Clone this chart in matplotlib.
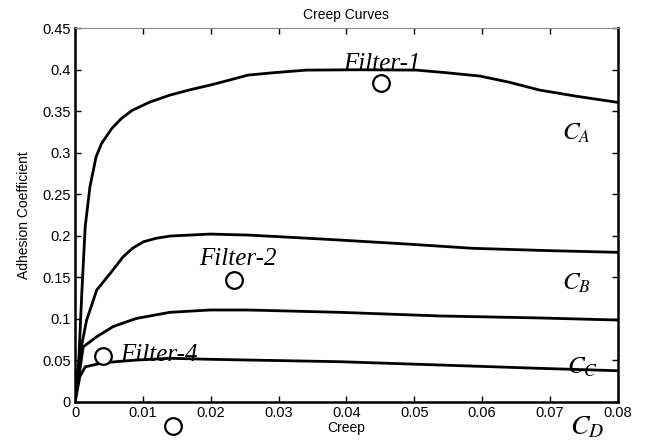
import numpy as np
import matplotlib
matplotlib.use("Agg")
import matplotlib.pyplot as plt

plt.rcParams['font.family'] = ['Liberation Sans', 'DejaVu Sans']
plt.rcParams['mathtext.fontset'] = 'stix'

# creep curve samples
creep_a = [0, 0.0005, 0.001, 0.0015, 0.0022, 0.0031, 0.0039, 0.0054, 0.0068, 0.0084, 0.011,
           0.014, 0.017, 0.0199, 0.0225, 0.0255, 0.0292, 0.0341, 0.042, 0.0503, 0.0548,
           0.0597, 0.064, 0.0685, 0.074, 0.08]
adh_a = [0, 0.04, 0.131, 0.211, 0.259, 0.295, 0.311, 0.329, 0.341, 0.351, 0.361,
         0.3695, 0.376, 0.3815, 0.387, 0.3936, 0.3964, 0.3996, 0.4, 0.3996, 0.3964,
         0.3924, 0.385, 0.3755, 0.368, 0.3607]

creep_b = [0, 0.0003, 0.00074, 0.0017, 0.0032, 0.0052, 0.0071, 0.0085, 0.0101, 0.012, 0.014,
           0.0199, 0.0255, 0.032, 0.039, 0.0489, 0.0587, 0.07, 0.08]
adh_b = [0, 0.03, 0.058, 0.098, 0.1346, 0.1547, 0.1747, 0.185, 0.1928, 0.197, 0.1996,
         0.202, 0.2008, 0.198, 0.1948, 0.19, 0.1848, 0.182, 0.18]

creep_c = [0, 0.0005, 0.0012, 0.0032, 0.0056, 0.0075, 0.0091, 0.0115, 0.014, 0.0199, 0.0255,
           0.039, 0.0538, 0.068, 0.08]
adh_c = [0, 0.026, 0.066, 0.0783, 0.0904, 0.096, 0.1004, 0.104, 0.1077, 0.1105, 0.1105,
         0.1077, 0.1033, 0.101, 0.0984]

creep_d = [0, 0.00025, 0.0007, 0.0015, 0.0042, 0.0091, 0.014, 0.0199, 0.0255, 0.039, 0.0538,
           0.0685, 0.08]
adh_d = [0, 0.01, 0.03, 0.042, 0.047, 0.0502, 0.0523, 0.0511, 0.0502, 0.0482, 0.0442,
         0.0402, 0.0373]

# filter operating points
filter_x = [0.0451, 0.0235, 0.0041, 0.0144]
filter_y = [0.384, 0.147, 0.0546, -0.029]
filter_names = ['Filter-1', 'Filter-2', 'Filter-4']
filter_label_x = [0.0395, 0.0183, 0.0066]
filter_label_y = [0.407, 0.172, 0.0566]

curve_names = ['$C_A$', '$C_B$', '$C_C$', '$C_D$']
curve_label_x = [0.0718, 0.0718, 0.0725, 0.073]
curve_label_y = [0.324, 0.143, 0.042, -0.031]
curve_label_size = [18, 18, 18, 20]

fig = plt.figure(figsize=(6.49, 4.44), dpi=100)
ax = fig.add_axes([0.1156, 0.0953, 0.8362, 0.841])

for cx, cy in [(creep_a, adh_a), (creep_b, adh_b), (creep_c, adh_c), (creep_d, adh_d)]:
    ax.plot(cx, cy, color='black', lw=2, solid_joinstyle='round')

ax.plot(filter_x, filter_y, 'o', ms=12, mfc='white', mec='black', mew=1.6,
        clip_on=False, zorder=5)

for name, tx, ty in zip(filter_names, filter_label_x, filter_label_y):
    ax.text(tx, ty, name, family='Liberation Serif', style='italic', fontsize=18,
            va='center', ha='left', zorder=6)

for name, tx, ty, fs in zip(curve_names, curve_label_x, curve_label_y, curve_label_size):
    ax.text(tx, ty, name, fontsize=fs, va='center', ha='left', clip_on=False)

ax.set_xlim(0, 0.08)
ax.set_ylim(0, 0.45)
ax.set_xticks(np.arange(0, 0.081, 0.01))
ax.set_yticks(np.arange(0, 0.451, 0.05))
ax.set_xticklabels(['0', '0.01', '0.02', '0.03', '0.04', '0.05', '0.06', '0.07', '0.08'])
ax.set_yticklabels(['0', '0.05', '0.1', '0.15', '0.2', '0.25', '0.3', '0.35', '0.4', '0.45'])
ax.tick_params(direction='in', top=True, right=True, length=4, width=1, labelsize=10.5, pad=3)

for side in ['left', 'bottom', 'right']:
    ax.spines[side].set_linewidth(1.8)
ax.spines['top'].set_linewidth(0.8)
ax.spines['top'].set_color('#888888')

ax.set_title('Creep Curves', fontsize=10, pad=7)
ax.set_xlabel('Creep', fontsize=10, labelpad=1)
ax.set_ylabel('Adhesion Coefficient', fontsize=10, labelpad=8)

fig.savefig('out.png', dpi=100)
